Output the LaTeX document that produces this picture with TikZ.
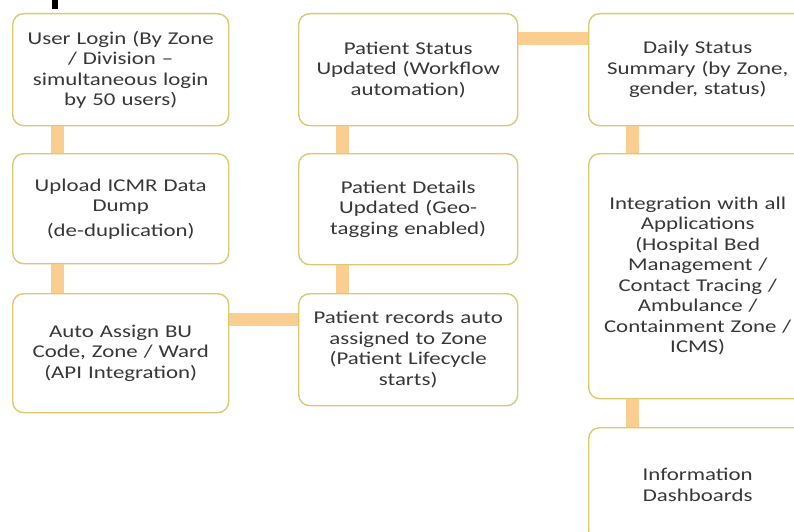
\documentclass[tikz,border=0pt]{standalone}
\usepackage{fontspec}
\setmainfont{Carlito}[FakeStretch=1.27]
\definecolor{boxedge}{RGB}{222,200,110}
\definecolor{linkc}{RGB}{249,206,144}
\definecolor{txt}{RGB}{55,55,55}
\begin{document}
\begin{tikzpicture}[x=1pt,y=-1pt,
  stepbox/.style={draw=boxedge, line width=1.4pt, fill=white, rounded corners=11pt,
    align=center, text=txt, font=\fontsize{18}{20.5}\selectfont,
    inner sep=0pt, anchor=north west, text width=205pt},
  link/.style={draw=linkc, line width=13pt}]
\useasboundingbox (0,0) rectangle (794,532);
\clip (0,0) rectangle (794,532);
\fill[white] (0,0) rectangle (794,532);

% descender of the heading above the chart
\fill[black] (52,0) rectangle (58,9);

% left column
\node[stepbox, minimum width=216pt, minimum height=112pt] (b1) at (12,13)
  {User Login (By Zone\\/ Division --\\simultaneous login\\by 50 users)};
\node[stepbox, minimum width=216pt, minimum height=110pt] (b2) at (12,153)
  {Upload ICMR Data\\Dump\\[4pt](de-duplication)};
\node[stepbox, minimum width=216pt, minimum height=119pt] (b3) at (12,293)
  {Auto Assign BU\\Code, Zone / Ward\\(API Integration)};

% middle column
\node[stepbox, minimum width=219pt, minimum height=112pt] (b4) at (298,13)
  {Patient Status\\Updated (Workflow\\automation)};
\node[stepbox, minimum width=219pt, minimum height=111pt] (b5) at (298,153)
  {Patient Details\\Updated (Geo-\\tagging enabled)};
\node[stepbox, minimum width=219pt, minimum height=112pt] (b6) at (298,293)
  {Patient records auto\\assigned to Zone\\(Patient Lifecycle\\starts)};

% right column
\node[stepbox, minimum width=218pt, minimum height=112pt] (b7) at (588,13)
  {Daily Status\\Summary (by Zone,\\gender, status)};
\node[stepbox, minimum width=218pt, minimum height=245pt] (b8) at (588,153)
  {Integration with all\\Applications\\(Hospital Bed\\Management /\\Contact Tracing /\\Ambulance /\\Containment Zone /\\ICMS)};
\node[stepbox, minimum width=218pt, minimum height=114pt] (b9) at (588,427)
  {Information\\Dashboards};

% connectors
\draw[link] ([xshift=45pt]b1.south west) -- ([xshift=45pt]b2.north west);
\draw[link] ([xshift=45pt]b2.south west) -- ([xshift=45pt]b3.north west);
\draw[link] ([yshift=-26pt]b3.north east) -- ([yshift=-26pt]b6.north west);
\draw[link] ([xshift=44pt]b6.north west) -- ([xshift=44pt]b5.south west);
\draw[link] ([xshift=44pt]b5.north west) -- ([xshift=44pt]b4.south west);
\draw[link] ([yshift=-26pt]b4.north east) -- ([yshift=-26pt]b7.north west);
\draw[link] ([xshift=44pt]b7.south west) -- ([xshift=44pt]b8.north west);
\draw[link] ([xshift=44pt]b8.south west) -- ([xshift=44pt]b9.north west);
\end{tikzpicture}
\end{document}
